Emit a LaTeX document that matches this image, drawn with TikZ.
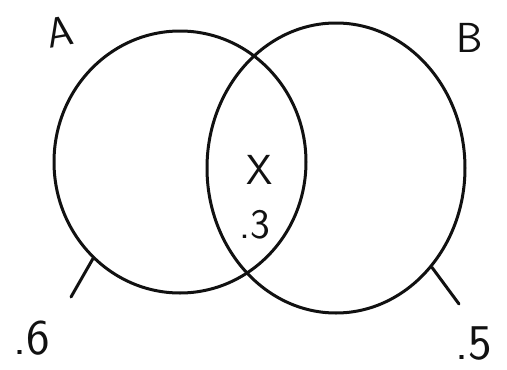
\documentclass[tikz,border=0pt]{standalone}
\usepackage{tikz}
\usetikzlibrary{shapes.geometric, positioning}
\definecolor{inkblack}{HTML}{111111}

\tikzset{
  setring/.style={draw=inkblack, line width=3pt, ellipse, inner sep=0pt},
  setlabel/.style={inkblack, font=\fontsize{42}{42}\selectfont\sffamily},
  problabel/.style={inkblack, font=\fontsize{50}{50}\selectfont\sffamily},
  tickline/.style={inkblack, line width=3pt, line cap=round}
}

\begin{document}
\begin{tikzpicture}[x=1pt, y=-1pt]
        \useasboundingbox (0,0) rectangle (507,370);
        % Mengen
        \node[setring, minimum width=252pt, minimum height=262pt] (A) at (180,162) {};
        \node[setring, minimum width=258pt, minimum height=290pt] (B) at (336,168) {};
        % Namen
        \node[setlabel, rotate=10] (nameA) at (60,32) {A};
        \node[setlabel] (nameB) at (470,38) {B};
        % Schnittmenge
        \node[setlabel] (meet) at (260,170) {X};
        \node[setlabel] (pmeet) at (255,225) {.3};
        % Wahrscheinlichkeiten
        \node[problabel] (pA) at (32,338) {.6};
        \node[problabel] (pB) at (474,343) {.5};
        \coordinate (endA) at (71,297);
        \coordinate (endB) at (459,304);
        \draw[tickline] (A.228) -- (endA);
        \draw[tickline] (B.314) -- (endB);
      \end{tikzpicture}
\end{document}
